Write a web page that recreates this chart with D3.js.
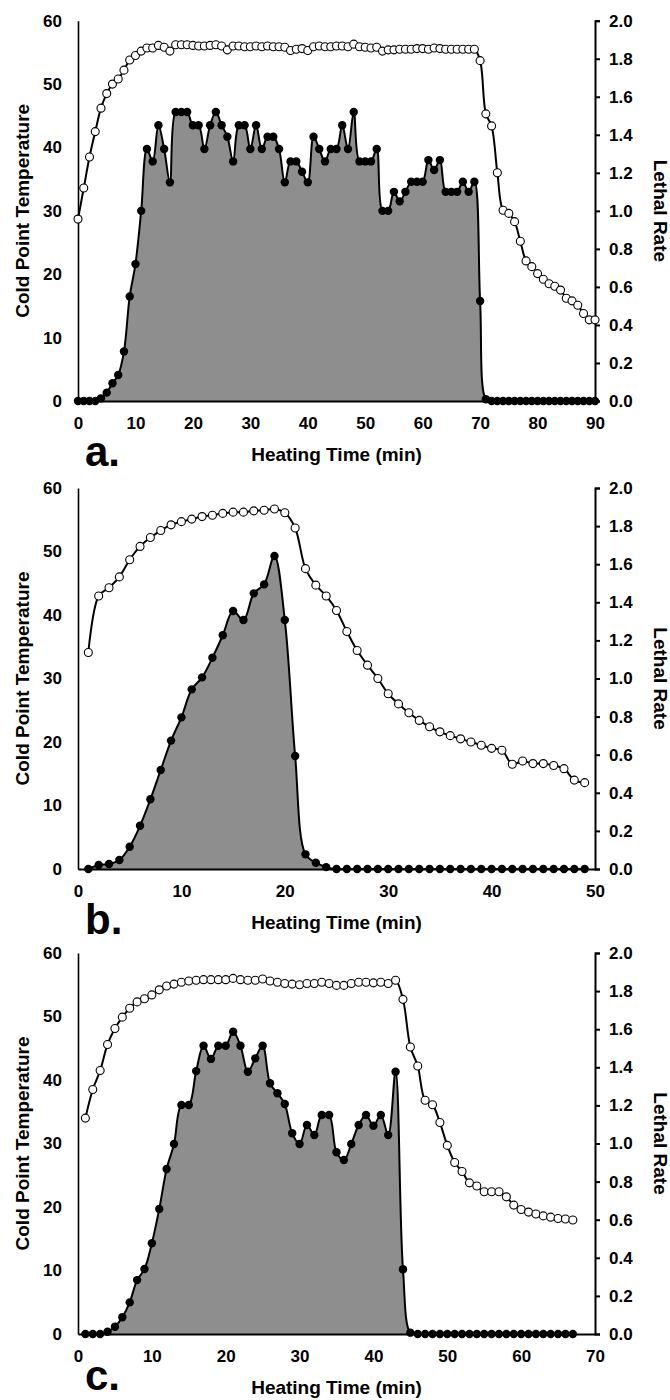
<!DOCTYPE html>
<html>
<head>
<meta charset="utf-8">
<script src="https://cdn.jsdelivr.net/npm/d3@7"></script>
<style>
body { margin: 0; background: #fff; }
text { font-family: Arial, "Liberation Sans", sans-serif; font-weight: bold; fill: #000; }
</style>
</head>
<body>
<svg id="chart" width="670" height="1400"></svg>
<script>
// cold point temperature (left axis) and lethal rate (right axis), one reading per minute
const tempA = [28.7, 33.6, 38.5, 42.5, 46.2, 48.5, 50.0, 50.8, 52.2, 53.8, 54.5, 55.2, 55.7, 55.7, 56.1, 55.8, 55.2, 56.2, 56.2, 56.2,
    56.1, 56.0, 56.0, 56.1, 56.2, 56.0, 55.4, 56.0, 56.0, 55.9, 55.9, 56.0, 55.9, 56.0, 55.9, 55.9, 55.8, 55.3, 55.5, 55.6,
    55.3, 55.9, 56.0, 55.9, 55.9, 56.0, 56.0, 55.9, 56.3, 55.9, 55.8, 55.7, 55.8, 55.2, 55.4, 55.4, 55.5, 55.5, 55.5, 55.6,
    55.6, 55.5, 55.7, 55.6, 55.5, 55.5, 55.5, 55.5, 55.5, 55.5, 53.7, 45.3, 43.4, 36.0, 30.1, 29.6, 28.3, 25.2, 22.1, 21.2,
    20.1, 19.2, 18.5, 18.1, 17.5, 16.2, 15.8, 15.1, 13.8, 12.8, 12.8];
const lethalA = [0, 0, 0, 0, 0.014, 0.044, 0.093, 0.137, 0.26, 0.55, 0.72, 1.0, 1.325, 1.26, 1.45, 1.325, 1.15, 1.52, 1.52, 1.52,
    1.45, 1.45, 1.325, 1.45, 1.52, 1.45, 1.39, 1.26, 1.45, 1.45, 1.325, 1.45, 1.325, 1.39, 1.39, 1.325, 1.15, 1.26, 1.26, 1.206,
    1.15, 1.39, 1.325, 1.26, 1.325, 1.325, 1.45, 1.325, 1.52, 1.26, 1.26, 1.26, 1.325, 1.0, 1.0, 1.10, 1.05, 1.10, 1.153, 1.153,
    1.153, 1.267, 1.215, 1.267, 1.10, 1.10, 1.10, 1.153, 1.10, 1.153, 0.526, 0.009, 0, 0, 0, 0, 0, 0, 0, 0,
    0, 0, 0, 0, 0, 0, 0, 0, 0, 0, 0];

const tempB = [34.1, 43.0, 44.3, 46.0, 48.7, 50.8, 52.2, 53.3, 54.2, 54.7, 55.1, 55.5, 55.7, 56.0, 56.2, 56.2, 56.4, 56.5, 56.7, 56.1,
    53.7, 47.3, 44.7, 43.0, 40.7, 37.4, 34.4, 32.1, 30.0, 27.6, 26.0, 24.6, 23.4, 22.4, 21.6, 21.0, 20.5, 20.0, 19.5, 19.0,
    18.7, 16.5, 17.0, 16.6, 16.6, 16.3, 15.8, 14.0, 13.6];
const lethalB = [0, 0.021, 0.026, 0.047, 0.117, 0.227, 0.366, 0.52, 0.674, 0.796, 0.943, 1.006, 1.109, 1.227, 1.354, 1.307, 1.447, 1.494, 1.643, 1.307,
    0.593, 0.077, 0.033, 0.01, 0, 0, 0, 0, 0, 0, 0, 0, 0, 0, 0, 0, 0, 0, 0, 0,
    0, 0, 0, 0, 0, 0, 0, 0, 0];

const tempC = [34.0, 38.5, 41.5, 45.6, 48.1, 49.9, 51.3, 52.3, 52.8, 53.4, 54.2, 54.8, 55.1, 55.4, 55.6, 55.7, 55.8, 55.8, 55.8, 55.8,
    56.0, 55.8, 55.7, 55.7, 55.9, 55.6, 55.4, 55.2, 55.1, 55.0, 55.2, 55.2, 55.4, 55.2, 54.9, 54.9, 55.2, 55.4, 55.4, 55.3,
    55.4, 55.2, 55.7, 52.7, 45.2, 42.2, 36.8, 36.1, 33.3, 29.7, 27.0, 25.6, 23.8, 23.3, 22.4, 22.4, 22.4, 21.6, 20.3, 19.6,
    19.2, 18.9, 18.6, 18.4, 18.2, 18.1, 17.95];
const lethalC = [0, 0, 0, 0.012, 0.038, 0.088, 0.166, 0.283, 0.341, 0.476, 0.656, 0.866, 0.997, 1.202, 1.202, 1.38, 1.513, 1.444, 1.513, 1.513,
    1.587, 1.513, 1.377, 1.447, 1.513, 1.316, 1.264, 1.207, 1.054, 0.997, 1.097, 1.045, 1.15, 1.15, 0.954, 0.913, 0.997, 1.097, 1.15, 1.093,
    1.15, 1.045, 1.377, 0.34, 0.007, 0, 0, 0, 0, 0, 0, 0, 0, 0, 0, 0, 0, 0, 0, 0,
    0, 0, 0, 0, 0, 0, 0];

const tempTicks = [0, 10, 20, 30, 40, 50, 60];
const lethalTicks = [0, 0.2, 0.4, 0.6, 0.8, 1.0, 1.2, 1.4, 1.6, 1.8, 2.0];

const panels = [
    { label: "a.", top: 20.7, base: 401, xMax: 90, start: 0, temp: tempA, lethal: lethalA, labelY: 466 },
    { label: "b.", top: 488, base: 869, xMax: 50, start: 1, temp: tempB, lethal: lethalB, labelY: 934 },
    { label: "c.", top: 953, base: 1334, xMax: 70, start: 1, temp: tempC, lethal: lethalC, labelY: 1390 }
];

const LEFT = 78, RIGHT = 595;
const svg = d3.select("#chart");

panels.forEach(function (p) {
    let g = svg.append("g");
    let x = d3.scaleLinear().domain([0, p.xMax]).range([LEFT, RIGHT]);
    let yT = d3.scaleLinear().domain([0, 60]).range([p.base, p.top]);
    let yL = d3.scaleLinear().domain([0, 2]).range([p.base, p.top]);

    let tempPts = p.temp.map(function (v, i) { return { t: p.start + i, v: v }; });
    let lethalPts = p.lethal.map(function (v, i) { return { t: p.start + i, v: v }; });
    let curve = d3.curveCatmullRom.alpha(0.5);

    // shaded area under lethal rate
    g.append("path")
        .datum(lethalPts)
        .attr("fill", "#8e8e8e")
        .attr("d", d3.area().x(d => x(d.t)).y0(yL(0)).y1(d => Math.min(yL(d.v), yL(0))).curve(curve));

    // axes
    let xTicks = d3.range(0, p.xMax + 1, 10);
    let ax = g.append("g").attr("transform", "translate(0," + p.base + ")")
        .call(d3.axisBottom(x).tickValues(xTicks).tickSize(0).tickPadding(16));
    let al = g.append("g").attr("transform", "translate(" + LEFT + ",0)")
        .call(d3.axisLeft(yT).tickValues(tempTicks).tickSize(0).tickPadding(16));
    let ar = g.append("g").attr("transform", "translate(" + RIGHT + ",0)")
        .call(d3.axisRight(yL).tickValues(lethalTicks).tickFormat(d3.format(".1f")).tickSize(5).tickPadding(9));
    [ax, al, ar].forEach(function (a) {
        a.selectAll("text").style("font-size", "17px").attr("font-family", null);
        a.selectAll("path, line").attr("stroke", "#000").attr("stroke-width", 2);
    });
    al.select(".domain").attr("stroke-width", 1.6);

    // lethal rate line + filled dots
    g.append("path")
        .datum(lethalPts)
        .attr("fill", "none").attr("stroke", "#000").attr("stroke-width", 2)
        .attr("d", d3.line().x(d => x(d.t)).y(d => Math.min(yL(d.v), yL(0))).curve(curve));
    g.selectAll(".ldot").data(lethalPts).enter().append("circle")
        .attr("cx", d => x(d.t)).attr("cy", d => yL(d.v)).attr("r", 4.2)
        .attr("fill", "#000");

    // temperature line + open dots
    g.append("path")
        .datum(tempPts)
        .attr("fill", "none").attr("stroke", "#000").attr("stroke-width", 2)
        .attr("d", d3.line().x(d => x(d.t)).y(d => yT(d.v)).curve(curve));
    g.selectAll(".tdot").data(tempPts).enter().append("circle")
        .attr("cx", d => x(d.t)).attr("cy", d => yT(d.v)).attr("r", 4)
        .attr("fill", "#fff").attr("stroke", "#000").attr("stroke-width", 1.1);

    // titles
    let mid = (p.top + p.base) / 2;
    g.append("text")
        .attr("transform", "translate(29," + mid + ") rotate(-90)")
        .attr("text-anchor", "middle").style("font-size", "19px")
        .text("Cold Point Temperature");
    g.append("text")
        .attr("transform", "translate(654," + mid + ") rotate(90)")
        .attr("text-anchor", "middle").style("font-size", "19px")
        .text("Lethal Rate");
    g.append("text")
        .attr("x", (LEFT + RIGHT) / 2).attr("y", p.base + 60)
        .attr("text-anchor", "middle").style("font-size", "19px")
        .text("Heating Time (min)");
    g.append("text")
        .attr("x", 85).attr("y", p.labelY)
        .style("font-size", "42px")
        .text(p.label);
});
</script>
</body>
</html>
